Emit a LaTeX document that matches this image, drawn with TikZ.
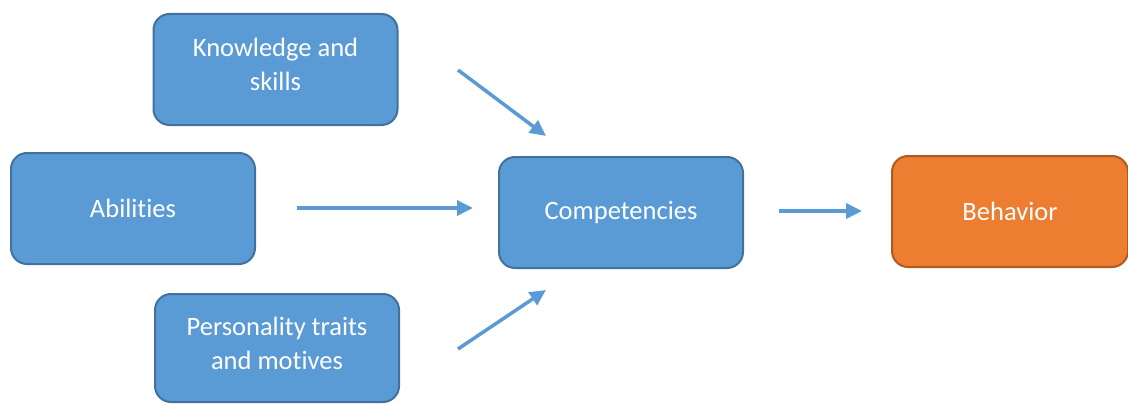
\documentclass[tikz,border=0pt]{standalone}
\usepackage{fontspec}
\setmainfont{Carlito}[Ligatures=NoCommon]
\usetikzlibrary{positioning,arrows.meta,calc}
\definecolor{boxblue}{HTML}{5B9BD5}
\definecolor{boxblueln}{HTML}{41719C}
\definecolor{boxorange}{HTML}{ED7D31}
\definecolor{boxorangeln}{HTML}{AE5A21}
\newcommand{\lowpad}{\rule[-10pt]{0pt}{10pt}}
\tikzset{
  fbox/.style={rounded corners=16pt,line width=2pt,draw=boxblueln,fill=boxblue,
    text=white,align=center,minimum width=244pt,minimum height=111pt,
    font=\fontsize{26.5}{34}\selectfont},
  obox/.style={fbox,draw=boxorangeln,fill=boxorange},
  flow/.style={-{Triangle[length=16pt,width=15pt]},line width=3.5pt,boxblue},
}
\begin{document}
\begin{tikzpicture}[x=1pt,y=-1pt]
  \useasboundingbox (0,0) rectangle (1128,404);
  % inputs
  \node[fbox] (know) at (275.5,69.5) {Knowledge and\\skills\lowpad};
  \node[fbox] (abil) at (133,208.5) {Abilities};
  \node[fbox,minimum height=108pt] (pers) at (277,348) {Personality traits\\and motives\lowpad};
  % middle and result
  \node[fbox] (comp) at (621,212.5) {Competencies};
  \node[obox,minimum width=236pt] (behv) at (1010,211.5) {Behavior};
  % arrow ends
  \coordinate (k1) at (458,70);  \coordinate (k2) at (546,136);
  \coordinate (a1) at (297,208); \coordinate (a2) at (473,208);
  \coordinate (p1) at (458,349); \coordinate (p2) at (546,290);
  \coordinate (c1) at (779,211); \coordinate (c2) at (862,211);
  \foreach \s/\e in {k1/k2,a1/a2,p1/p2,c1/c2}
    \draw[flow] (\s) -- (\e);
\end{tikzpicture}
\end{document}
